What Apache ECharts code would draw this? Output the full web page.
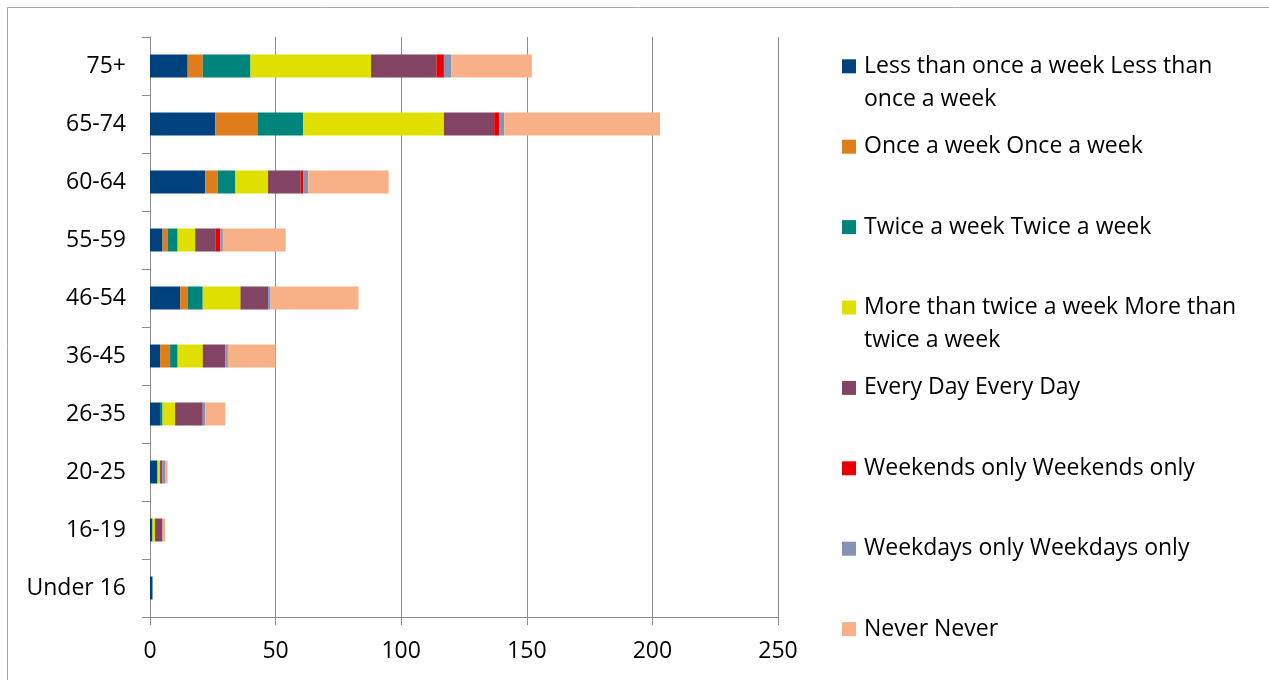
<!DOCTYPE html>
<html>
<head>
<meta charset="utf-8">
<script src="https://cdn.jsdelivr.net/npm/echarts@6/dist/echarts.min.js"></script>
<style>
  html, body { margin: 0; padding: 0; background: #fff; }
  #main { width: 1269px; height: 680px; }
</style>
</head>
<body>
<div id="main"></div>
<script>
// categories, top to bottom as in the picture
const ageGroups = ['75+', '65-74', '60-64', '55-59', '46-54', '36-45', '26-35', '20-25', '16-19', 'Under 16'];

const lessThanOnce  = [15, 26, 22, 5, 12, 4, 4, 3, 1, 1];
const onceAWeek     = [6, 17, 5, 2, 3, 4, 0, 0, 0, 0];
const twiceAWeek    = [19, 18, 7, 4, 6, 3, 1, 0, 0, 0];
const moreThanTwice = [48, 56, 13, 7, 15, 10, 5, 1, 1, 0];
const everyDay      = [26, 20, 13, 8, 11, 9, 11, 1, 3, 0];
const weekendsOnly  = [3, 2, 1, 2, 0, 0, 0, 0, 0, 0];
const weekdaysOnly  = [3, 2, 2, 1, 1, 1, 1, 1, 0, 0];
const never         = [32, 62, 32, 25, 35, 19, 8, 1, 1, 0];

const seriesNames = [
  'Less than once a week Less than once a week',
  'Once a week Once a week',
  'Twice a week Twice a week',
  'More than twice a week More than twice a week',
  'Every Day Every Day',
  'Weekends only Weekends only',
  'Weekdays only Weekdays only',
  'Never Never'
];
const seriesData = [lessThanOnce, onceAWeek, twiceAWeek, moreThanTwice, everyDay, weekendsOnly, weekdaysOnly, never];
const colors = ['#00427e', '#de7d1c', '#00857d', '#e0e000', '#824462', '#e60000', '#8593b3', '#f8b186'];

const font = 'Open Sans';
const lineH = 33;

// break long legend names after ~32 characters, like the picture.
// a blank first line keeps the marker level with the first text line
function wrapName(name) {
  if (name.length <= 32) return name;
  const cut = name.lastIndexOf(' ', 32);
  return ' \n' + name.slice(0, cut) + '\n' + name.slice(cut + 1);
}

let myChart = echarts.init(document.getElementById('main'));

// one legend per entry so the entries keep an even spacing
let legends = seriesNames.map(function (name, i) {
  const wrapped = name.length > 32;
  const markerY = 64.5 + 80.4 * i;
  return {
    data: [name],
    orient: 'vertical',
    left: 842,
    top: markerY - (wrapped ? 14.7 + lineH : 14.7),
    padding: 0,
    icon: 'rect',
    itemWidth: 14,
    itemHeight: 14,
    formatter: wrapName,
    textStyle: {
      fontFamily: font,
      fontSize: 23,
      color: '#000',
      lineHeight: lineH,
      padding: [0, 0, 0, 3]
    }
  };
});

let option = {
  animation: false,
  color: colors,
  graphic: [{
    type: 'rect',
    shape: { x: 7.5, y: 7.5, width: 1300, height: 700 },
    style: { fill: 'none', stroke: '#a6a6a6', lineWidth: 1 },
    silent: true
  }],
  legend: legends,
  grid: {
    left: 150,
    right: 491,
    top: 37,
    bottom: 63
  },
  xAxis: {
    type: 'value',
    min: 0,
    max: 250,
    interval: 50,
    axisLine: { show: true, lineStyle: { color: '#8c8c8c', width: 1 } },
    axisTick: { show: true, length: 8, lineStyle: { color: '#8c8c8c' } },
    splitLine: { show: true, lineStyle: { color: '#8c8c8c', width: 1 } },
    axisLabel: { fontFamily: font, fontSize: 23, color: '#000', margin: 23 }
  },
  yAxis: {
    type: 'category',
    inverse: true,
    data: ageGroups,
    axisLine: { show: true, lineStyle: { color: '#8c8c8c', width: 1 } },
    axisTick: { show: true, length: 8, lineStyle: { color: '#8c8c8c' } },
    axisLabel: { fontFamily: font, fontSize: 23, color: '#000', margin: 24 }
  },
  series: seriesNames.map(function (name, i) {
    return {
      name: name,
      type: 'bar',
      stack: 'total',
      barWidth: 23,
      data: seriesData[i]
    };
  })
};

myChart.setOption(option);
</script>
</body>
</html>
